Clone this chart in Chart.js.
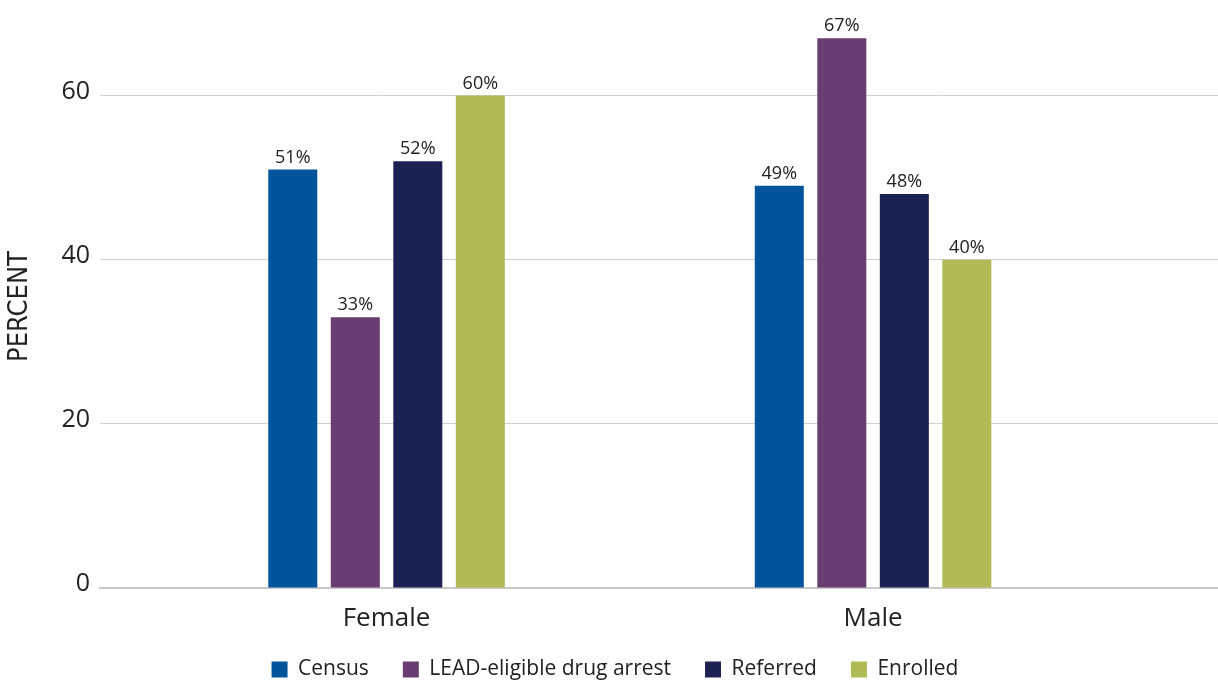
<!DOCTYPE html>
<html>
<head>
<meta charset="utf-8">
<title>LEAD participants by sex</title>
<script src="https://cdn.jsdelivr.net/npm/chart.js@4"></script>
<style>
  html, body { margin: 0; padding: 0; background: #fff; }
  #chart { display: block; }
</style>
</head>
<body>
<canvas id="chart" width="1218" height="684"></canvas>
<script>
const categories = ["Female", "Male"];
const seriesNames = ["Census", "LEAD-eligible drug arrest", "Referred", "Enrolled"];
const census = [51, 49];
const drugArrest = [33, 67];
const referred = [52, 48];
const enrolled = [60, 40];
const yTicks = [0, 20, 40, 60];
const colors = ["#00549C", "#693C72", "#1C2153", "#B1BB55"];

const font = "'Open Sans', 'Noto Sans', sans-serif";

// categories sit on a numeric axis so the groups can be placed off-centre
function toPoints(values) {
    return values.map((v, i) => ({ x: i, y: v }));
}

const datasets = [census, drugArrest, referred, enrolled].map((vals, i) => ({
    label: seriesNames[i],
    data: toPoints(vals),
    backgroundColor: colors[i],
    borderWidth: 0,
    categoryPercentage: 0.514,
    barPercentage: 0.784
}));

// value labels above each bar
const barLabels = {
    id: "barLabels",
    afterDatasetsDraw(chart) {
        const ctx = chart.ctx;
        ctx.save();
        ctx.font = "18px " + font;
        ctx.fillStyle = "#222";
        ctx.textAlign = "center";
        ctx.textBaseline = "bottom";
        chart.data.datasets.forEach((ds, di) => {
            chart.getDatasetMeta(di).data.forEach((bar, i) => {
                ctx.fillText(ds.data[i].y + "%", bar.x, bar.y - 3);
            });
        });
        ctx.restore();
    }
};

// short legend box near the bottom edge, row nudged up and a little right
const legendHeight = {
    id: "legendHeight",
    beforeLayout(chart) {
        const lg = chart.legend;
        if (!lg || lg._shortFit) return;
        const fit = lg.fit;
        lg.fit = function () {
            fit.call(this);
            this.height = 52;
        };
        lg._shortFit = true;
    },
    afterLayout(chart) {
        const lg = chart.legend;
        if (!lg) return;
        lg.left += 6;
        lg.right += 6;
        lg.top -= 7;
    }
};

new Chart(document.getElementById("chart"), {
    type: "bar",
    data: { datasets },
    plugins: [barLabels, legendHeight],
    options: {
        responsive: false,
        animation: false,
        layout: { padding: { top: 14, right: 0, left: 0, bottom: 0 } },
        plugins: {
            tooltip: { enabled: false },
            legend: {
                position: "bottom",
                labels: {
                    boxWidth: 16,
                    boxHeight: 16,
                    padding: 34,
                    color: "#222",
                    font: { family: font, size: 21 }
                }
            }
        },
        scales: {
            x: {
                type: "linear",
                offset: false,
                min: -0.589,
                max: 1.709,
                afterBuildTicks: axis => {
                    axis.ticks = categories.map((_, i) => ({ value: i }));
                },
                afterFit: axis => { axis.height = 44; },
                ticks: {
                    callback: v => categories[v],
                    color: "#222",
                    padding: 18,
                    font: { family: font, size: 26, lineHeight: 1 }
                },
                grid: { display: false, drawTicks: false },
                border: { display: true, color: "#c8c8c8", width: 2 }
            },
            y: {
                min: 0,
                max: 68.6,
                afterBuildTicks: axis => {
                    axis.ticks = yTicks.map(v => ({ value: v }));
                },
                afterFit: axis => { axis.width = 100; },
                ticks: {
                    color: "#222",
                    padding: 10,
                    labelOffset: -4,
                    font: { family: font, size: 25 }
                },
                grid: { color: "#d0d0d0", lineWidth: 1, drawTicks: false },
                border: { display: false },
                title: {
                    display: true,
                    text: "PERCENT",
                    color: "#222",
                    padding: { top: 4, bottom: 0 },
                    font: { family: "'Liberation Sans Narrow', 'DejaVu Sans Condensed', sans-serif", size: 27, weight: "300" }
                }
            }
        }
    }
});
</script>
</body>
</html>
